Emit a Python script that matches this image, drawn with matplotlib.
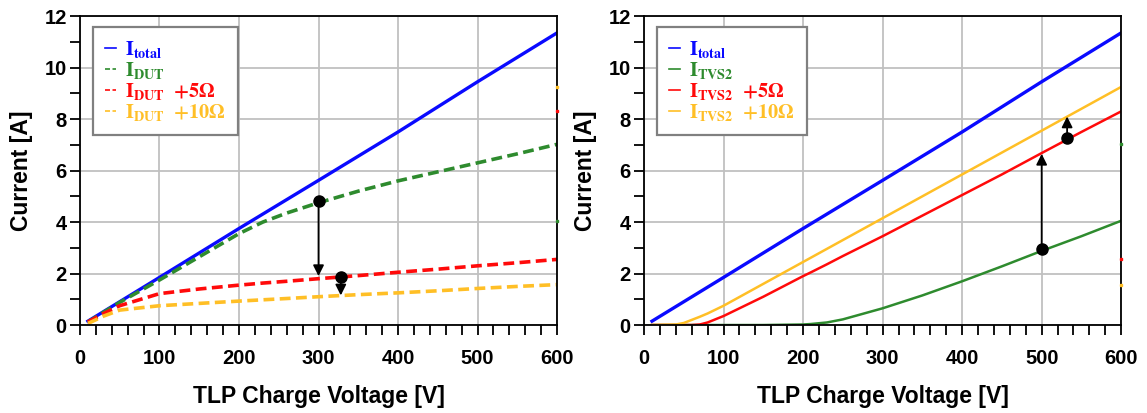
import numpy as np
import matplotlib
matplotlib.use('Agg')
from matplotlib import pyplot as plt

plt.rcParams['font.family'] = ['Liberation Sans', 'DejaVu Sans']
plt.rcParams['mathtext.fontset'] = 'stix'

# left panel: DUT currents
v_tot = [10, 100, 200, 300, 400, 500, 600]
i_tot = [0.15, 1.85, 3.75, 5.62, 7.5, 9.45, 11.35]

v_dut = [10, 30, 50, 100, 150, 200, 230, 260, 300, 350, 400, 450, 500, 550, 600]
i_dut = [0.12, 0.5, 0.88, 1.75, 2.65, 3.55, 4.0, 4.35, 4.75, 5.2, 5.6, 5.95, 6.3, 6.65, 7.02]
i_dut5 = [0.12, 0.45, 0.75, 1.22, 1.4, 1.55, 1.63, 1.7, 1.8, 1.92, 2.05, 2.17, 2.3, 2.42, 2.55]
i_dut10 = [0.06, 0.35, 0.58, 0.75, 0.84, 0.93, 0.98, 1.03, 1.1, 1.18, 1.25, 1.33, 1.42, 1.5, 1.57]

# right panel: TVS2 currents
v_tvs = [10, 40, 50, 60, 70, 80, 100, 150, 200, 210, 230, 250, 300, 350, 400, 450, 500, 550, 600]
i_tvs = [0, 0, 0, 0, 0, 0, 0, 0, 0.02, 0.04, 0.1, 0.22, 0.65, 1.15, 1.7, 2.28, 2.88, 3.45, 4.05]
i_tvs5 = [0, 0, 0, 0, 0.02, 0.1, 0.35, 1.1, 1.9, 2.05, 2.36, 2.68, 3.45, 4.25, 5.05, 5.85, 6.68, 7.5, 8.3]
i_tvs10 = [0, 0.02, 0.08, 0.2, 0.32, 0.45, 0.75, 1.6, 2.45, 2.62, 2.96, 3.3, 4.15, 5.0, 5.85, 6.7, 7.55, 8.4, 9.25]

# arrows: (x, y_start, y_end)
arr_left = [(300, 4.8, 1.9), (328, 1.85, 1.15)]
arr_right = [(500, 2.95, 6.65), (532, 7.25, 8.1)]

blue = '#0a0aff'
green = '#2e8b2e'
red = '#ff0a0a'
yellow = '#ffbf26'

fig = plt.figure(figsize=(11.47, 4.13), dpi=100)
axL = fig.add_axes([0.0697, 0.213, 0.416, 0.748])
axR = fig.add_axes([0.5615, 0.213, 0.416, 0.748])


def style(ax):
    ax.set_xlim(0, 600)
    ax.set_ylim(0, 12)
    ax.set_xticks(np.arange(0, 601, 100))
    ax.set_xticks(np.arange(0, 601, 20), minor=True)
    ax.set_yticks(np.arange(0, 13, 2))
    ax.set_yticks(np.arange(0, 13, 1), minor=True)
    ax.grid(True, which='major', color='#c0c0c0', lw=1.3)
    ax.set_axisbelow(True)
    ax.tick_params(which='both', direction='out', length=7.5, width=1.3, color='black')
    ax.tick_params(axis='x', labelsize=14.5, pad=10)
    ax.tick_params(axis='y', labelsize=14.5, pad=2)
    for lab in ax.get_xticklabels() + ax.get_yticklabels():
        lab.set_fontweight('bold')
    for s in ax.spines.values():
        s.set_linewidth(1.3)
    ax.set_xlabel('TLP Charge Voltage [V]', fontsize=16.5, fontweight='bold', labelpad=12)
    ax.set_ylabel('Current [A]', fontsize=16.5, fontweight='bold', labelpad=8)


def arrows(ax, lst):
    for x, y0, y1 in lst:
        ax.annotate('', xy=(x, y1), xytext=(x, y0),
                    arrowprops=dict(arrowstyle='-|>', color='black', lw=1.3, mutation_scale=16,
                                    shrinkA=0, shrinkB=0), zorder=6)
        ax.plot(x, y0, 'o', color='black', ms=8, zorder=7)


def legend(ax):
    leg = ax.legend(loc='upper left', bbox_to_anchor=(0.027, 0.964), borderaxespad=0,
                    fontsize=14.5, handlelength=0.55, handletextpad=0.45, labelspacing=0.0,
                    borderpad=0.6, fancybox=False, edgecolor='#808080', framealpha=1,
                    labelcolor='linecolor')
    leg.get_frame().set_linewidth(1.6)
    for h in leg.get_lines():
        h.set_linewidth(1.2)


# left
axL.plot(v_tot, i_tot, color=blue, lw=2.4, label=r'$\mathbf{I_{total}}$')
axL.plot(v_dut, i_dut, color=green, lw=2.6, ls=(0, (3, 1.5)), label=r'$\mathbf{I_{DUT}}$')
axL.plot(v_dut, i_dut5, color=red, lw=2.6, ls=(0, (3, 1.5)), label=r'$\mathbf{I_{DUT}\ \ {+}5\Omega}$')
axL.plot(v_dut, i_dut10, color=yellow, lw=2.6, ls=(0, (3, 1.5)), label=r'$\mathbf{I_{DUT}\ \ {+}10\Omega}$')
arrows(axL, arr_left)
# stray end marks from the other panel's curves
for yv, c in [(i_tvs[-1], green), (i_tvs5[-1], red), (i_tvs10[-1], yellow)]:
    axL.plot(600, yv, 's', color=c, ms=1.5, clip_on=False, zorder=8)
style(axL)
legend(axL)

# right
axR.plot(v_tot, i_tot, color=blue, lw=2.4, label=r'$\mathbf{I_{total}}$')
axR.plot(v_tvs, i_tvs, color=green, lw=1.8, label=r'$\mathbf{I_{TVS2}}$')
axR.plot(v_tvs, i_tvs5, color=red, lw=1.8, label=r'$\mathbf{I_{TVS2}\ \ {+}5\Omega}$')
axR.plot(v_tvs, i_tvs10, color=yellow, lw=1.8, label=r'$\mathbf{I_{TVS2}\ \ {+}10\Omega}$')
arrows(axR, arr_right)
for yv, c in [(i_dut[-1], green), (i_dut5[-1], red), (i_dut10[-1], yellow)]:
    axR.plot(600, yv, 's', color=c, ms=1.5, clip_on=False, zorder=8)
style(axR)
legend(axR)

plt.savefig('out.png', dpi=100)
